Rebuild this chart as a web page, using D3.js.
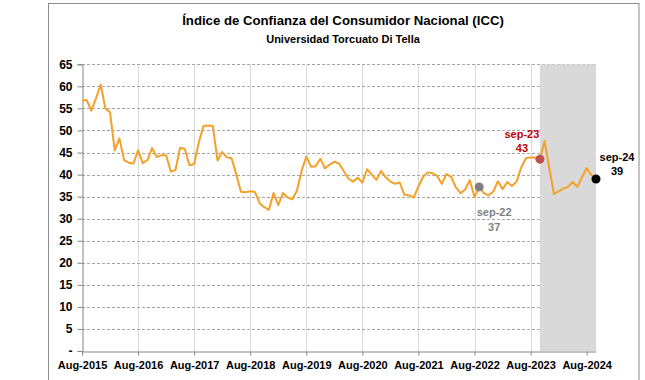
<!DOCTYPE html>
<html><head><meta charset="utf-8">
<script src="https://cdn.jsdelivr.net/npm/d3@7"></script>
<style>
html,body{margin:0;padding:0;background:#fff;}
svg{display:block;font-family:"Liberation Sans",Arial,sans-serif;}
</style></head>
<body><svg id="c" width="645" height="380"></svg>
<script>
// ---- data ----
const title = "Índice de Confianza del Consumidor Nacional (ICC)";
const subtitle = "Universidad Torcuato Di Tella";
const tickLabels = ["Aug-2015","Aug-2016","Aug-2017","Aug-2018","Aug-2019","Aug-2020","Aug-2021","Aug-2022","Aug-2023","Aug-2024"];
const tickIndex = [0,12,24,36,48,60,72,84,96,108];
const yTicks = [0,5,10,15,20,25,30,35,40,45,50,55,60,65];
const values = [
 56.8,56.9,54.5,57.3,60.4,55.0,54.1,45.5,48.2,43.3,42.7,42.5,
 45.5,42.6,43.3,46.0,44.0,44.4,44.4,40.7,41.0,46.1,45.8,42.1,
 42.4,47.3,51.0,51.1,51.0,43.2,45.1,43.9,43.7,40.1,36.1,36.0,
 36.2,36.1,33.5,32.6,32.0,35.8,33.1,35.8,34.8,34.4,36.4,40.8,
 44.1,41.8,41.9,43.6,41.4,42.3,42.9,42.5,40.8,39.1,38.4,39.3,
 38.2,41.2,40.0,38.8,40.8,39.4,38.4,37.9,38.2,35.4,35.3,34.8,
 37.3,39.5,40.5,40.3,39.7,37.9,40.1,39.5,37.1,35.8,36.6,38.7,
 34.9,37.2,35.8,35.3,36.1,38.5,36.7,38.3,37.4,38.4,41.6,43.7,
 43.9,43.8,43.5,47.6,41.5,35.6,36.2,36.8,37.2,38.3,37.2,39.4,
 41.5,39.9,39.0
];
const markIndex = [85, 98, 110];
const markMonth = ["sep-22", "sep-23", "sep-24"];
const markText = ["37", "43", "39"];
const shadeFrom = 98, shadeTo = 110;

// ---- layout ----
const svg = d3.select("#c");
const L = 82, R = 596, T = 64.3, B = 351;
const x = d3.scaleLinear().domain([0, values.length - 1]).range([L, R]);
const y = d3.scaleLinear().domain([0, 65]).range([B, T]);

// frame
svg.append("rect").attr("x", 48.5).attr("y", 3.5).attr("width", 590.5).attr("height", 400)
  .attr("fill", "none").attr("stroke", "#8c8c8c").attr("stroke-width", 1);

// titles
svg.append("text").attr("x", 343).attr("y", 25).attr("text-anchor", "middle")
  .attr("font-weight", "bold").attr("font-size", 13.2).attr("fill", "#000").text(title);
svg.append("text").attr("x", 343).attr("y", 43).attr("text-anchor", "middle")
  .attr("font-weight", "bold").attr("font-size", 11).attr("fill", "#000").text(subtitle);

// vertical gridlines
svg.append("g").selectAll("line").data(tickIndex.slice(1)).join("line")
  .attr("x1", d => Math.round(x(d)) + 0.5).attr("x2", d => Math.round(x(d)) + 0.5)
  .attr("y1", T).attr("y2", B).attr("stroke", "#d9d9d9").attr("stroke-width", 1);

// horizontal dashed gridlines
svg.append("g").selectAll("line").data(yTicks.slice(1)).join("line")
  .attr("x1", L).attr("x2", R)
  .attr("y1", d => Math.round(y(d)) + 0.5).attr("y2", d => Math.round(y(d)) + 0.5)
  .attr("stroke", "#a6a6a6").attr("stroke-width", 1).attr("stroke-dasharray", "3,2");

// shaded region
svg.append("rect").attr("x", x(shadeFrom)).attr("y", T)
  .attr("width", x(shadeTo) - x(shadeFrom)).attr("height", B - T).attr("fill", "#d9d9d9");

// axes
const yAxis = d3.axisLeft(y).tickValues(yTicks).tickSize(5)
  .tickFormat(d => d === 0 ? "-" : d);
const gy = svg.append("g").attr("transform", `translate(${L + 0.5},0)`).call(yAxis);
gy.select(".domain").attr("stroke", "#868686");
gy.selectAll(".tick line").attr("stroke", "#868686");
gy.selectAll(".tick text").attr("font-size", 12).attr("font-weight", "bold")
  .attr("font-family", "Liberation Sans, Arial, sans-serif").attr("fill", "#000").attr("x", -10);

const xAxis = d3.axisBottom(x).tickValues(tickIndex).tickSize(4).tickSizeOuter(0)
  .tickFormat((d, i) => tickLabels[i]);
const gx = svg.append("g").attr("transform", `translate(0,${B + 0.5})`).call(xAxis);
gx.select(".domain").attr("stroke", "#868686");
gx.selectAll(".tick line").attr("stroke", "#868686");
gx.selectAll(".tick text").attr("font-size", 11).attr("font-weight", "bold")
  .attr("font-family", "Liberation Sans, Arial, sans-serif").attr("fill", "#000").attr("y", 10);

// line
const line = d3.line().x((d, i) => x(i)).y(d => y(d));
svg.append("path").datum(values).attr("d", line).attr("fill", "none")
  .attr("stroke", "#f5a028").attr("stroke-width", 2).attr("stroke-linejoin", "round");

// highlighted points
const markColor = ["#7f7f7f", "#c0504d", "#000000"];
const textColor = ["#7f7f7f", "#c00000", "#000000"];
const dxText = [15, -18, 21];
const dy1 = [25, -25, -22];
const dy2 = [40, -11, -8];
markIndex.forEach((idx, k) => {
  const cx = x(idx), cy = y(values[idx]);
  svg.append("circle").attr("cx", cx).attr("cy", cy).attr("r", 4.5).attr("fill", markColor[k]);
  svg.append("text").attr("x", cx + dxText[k]).attr("y", cy + dy1[k]).attr("dy", "0.35em")
    .attr("text-anchor", "middle").attr("font-weight", "bold").attr("font-size", 11)
    .attr("fill", textColor[k]).text(markMonth[k]);
  svg.append("text").attr("x", cx + dxText[k]).attr("y", cy + dy2[k]).attr("dy", "0.35em")
    .attr("text-anchor", "middle").attr("font-weight", "bold").attr("font-size", 11)
    .attr("fill", textColor[k]).text(markText[k]);
});
</script></body></html>
